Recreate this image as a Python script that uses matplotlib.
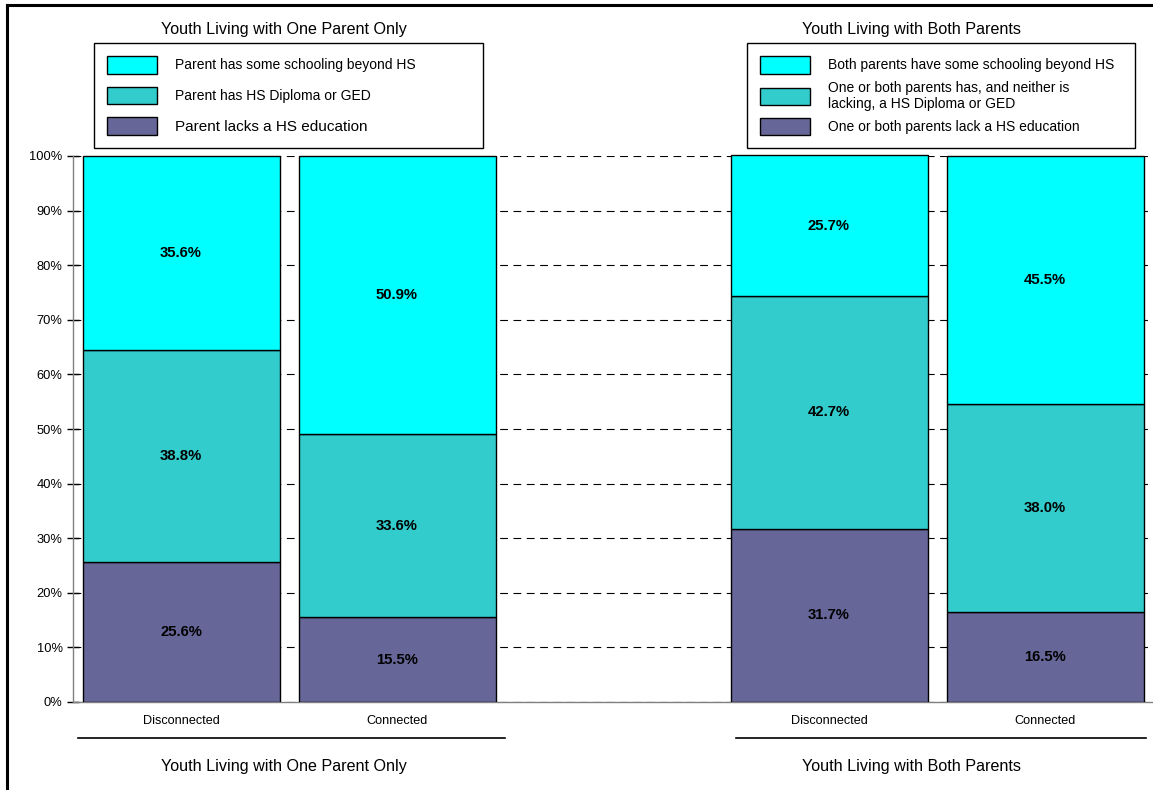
import matplotlib.pyplot as plt
from matplotlib.lines import Line2D
import numpy as np

plt.rcParams['font.family'] = ['Liberation Sans', 'DejaVu Sans']

# data
categories = ['Disconnected', 'Connected', 'Disconnected', 'Connected']
lacks_hs = [25.6, 15.5, 31.7, 16.5]
hs_diploma = [38.8, 33.6, 42.7, 38.0]
beyond_hs = [35.6, 50.9, 25.7, 45.5]
groups = ['Youth Living with One Parent Only', 'Youth Living with Both Parents']
labels_one = ['Parent has some schooling beyond HS',
              'Parent has HS Diploma or GED',
              'Parent lacks a HS education']
labels_both = ['Both parents have some schooling beyond HS',
               'One or both parents has, and neither is\nlacking, a HS Diploma or GED',
               'One or both parents lack a HS education']
colors = ['#00FFFF', '#33CCCC', '#666699']

W, H = 1153, 790


def main():
    fig = plt.figure(figsize=(W / 100, H / 100), dpi=100)
    ax = fig.add_axes([73 / W, 88 / H, 1080 / W, 546 / H])

    x = np.array([0, 1, 3, 4])
    width = 197 / 216
    kw = dict(width=width, edgecolor='black', linewidth=1.0, zorder=3)
    b1 = ax.bar(x, lacks_hs, color=colors[2], **kw)
    b2 = ax.bar(x, hs_diploma, bottom=lacks_hs, color=colors[1], **kw)
    bot3 = np.array(lacks_hs) + np.array(hs_diploma)
    b3 = ax.bar(x, beyond_hs, bottom=bot3, color=colors[0], clip_on=False, **kw)
    for b in (b1, b2, b3):
        ax.bar_label(b, labels=['%.1f%%' % v for v in b.datavalues],
                     label_type='center', fontsize=10.7, fontweight='bold')

    ax.set_xlim(-0.5, 4.5)
    ax.set_ylim(0, 100)
    ax.set_yticks(np.arange(0, 101, 10))
    ax.set_yticklabels(['%d%%' % v for v in range(0, 101, 10)], fontsize=9.3)
    ax.tick_params(axis='y', direction='inout', length=9, width=1, pad=3)
    ax.set_xticks(x)
    ax.set_xticklabels(categories, fontsize=9.1)
    ax.tick_params(axis='x', length=0, pad=9)
    for s in ('top', 'right'):
        ax.spines[s].set_visible(False)
    for s in ('left', 'bottom'):
        ax.spines[s].set_color('#808080')
        ax.spines[s].set_linewidth(1.0)
    ax.set_axisbelow(True)
    ax.yaxis.grid(True, color='black', linewidth=0.8, dashes=(7, 5))

    # group titles, top and bottom, with underline strokes
    tr = ax.get_xaxis_transform()
    ax.text(0.477, 1.231, groups[0], transform=tr, ha='center', va='center', fontsize=11.6)
    ax.text(3.384, 1.231, groups[1], transform=tr, ha='center', va='center', fontsize=11.6)
    ax.text(0.477, -0.119, groups[0], transform=tr, ha='center', va='center', fontsize=11.6)
    ax.text(3.384, -0.119, groups[1], transform=tr, ha='center', va='center', fontsize=11.6)
    ax.plot([-0.477, 1.5], [-0.066, -0.066], transform=tr, color='black', lw=1.2, clip_on=False)
    ax.plot([2.569, 4.468], [-0.066, -0.066], transform=tr, color='black', lw=1.2, clip_on=False)

    handles = [b3, b2, b1]
    lkw = dict(loc='upper left', mode='expand', borderaxespad=0, fancybox=False,
               edgecolor='black', framealpha=1, handlelength=3.6, handleheight=1.55,
               handletextpad=1.3, borderpad=0.95, fontsize=10)
    leg1 = fig.legend(handles, labels_one,
                      bbox_to_anchor=(94 / W, 1 - 151 / H, 389 / W, 108 / H),
                      labelspacing=0.95, **lkw)
    leg1.get_frame().set_linewidth(1.0)
    leg1.get_texts()[2].set_fontsize(11)
    leg2 = fig.legend(handles, labels_both,
                      bbox_to_anchor=(747 / W, 1 - 150 / H, 388 / W, 107 / H),
                      labelspacing=0.5, **lkw)
    leg2.get_frame().set_linewidth(1.0)

    # outer frame (top and left strokes of the original chart area)
    fig.add_artist(Line2D([7 / W, 1], [1 - 5 / H, 1 - 5 / H], transform=fig.transFigure,
                          color='black', lw=2.2))
    fig.add_artist(Line2D([7 / W, 7 / W], [0, 1 - 5 / H], transform=fig.transFigure,
                          color='black', lw=2.2))

    fig.savefig('out.png', dpi=100)
    plt.close(fig)


if __name__ == "__main__":
    main()
